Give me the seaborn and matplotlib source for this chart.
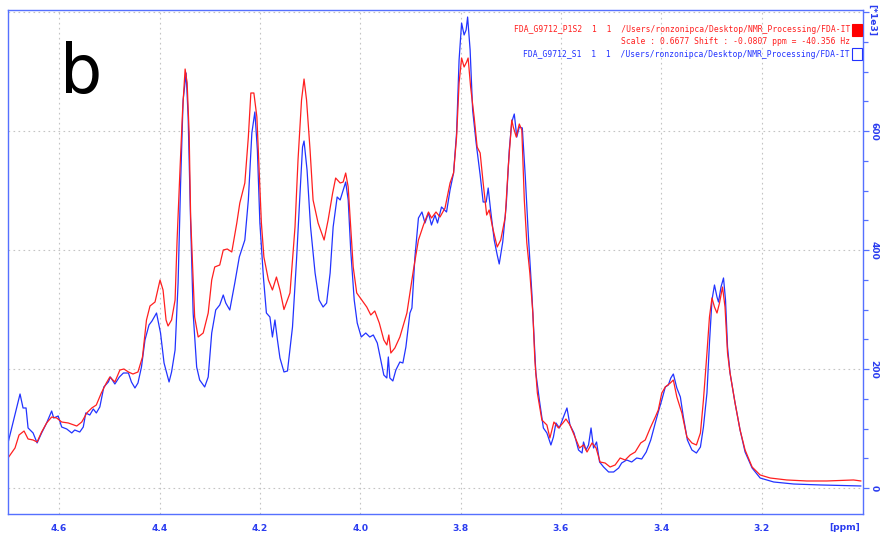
import numpy as np
import pandas as pd
import matplotlib
matplotlib.use("Agg")
import matplotlib.pyplot as plt
from matplotlib.ticker import MultipleLocator, FixedLocator
from matplotlib.patches import Rectangle
import seaborn as sns

# ---- data (ppm, intensity in units of 1e3) ----
blue_ppm = [4.702, 4.678, 4.672, 4.666, 4.662, 4.652, 4.644, 4.635, 4.625, 4.615, 4.611, 4.602, 4.595, 4.585,
            4.575, 4.569, 4.559, 4.552, 4.547, 4.539, 4.532, 4.526, 4.519, 4.511, 4.502, 4.498, 4.489, 4.480,
            4.472, 4.462, 4.456, 4.449, 4.443, 4.436, 4.429, 4.421, 4.415, 4.406, 4.398, 4.391, 4.381, 4.376,
            4.369, 4.363, 4.358, 4.353, 4.347, 4.343, 4.338, 4.333, 4.326, 4.320, 4.310, 4.303, 4.296, 4.288,
            4.280, 4.273, 4.268, 4.260, 4.250, 4.241, 4.230, 4.223, 4.216, 4.210, 4.205, 4.200, 4.193, 4.187,
            4.180, 4.175, 4.170, 4.165, 4.160, 4.152, 4.145, 4.135, 4.127, 4.120, 4.115, 4.112, 4.106, 4.099,
            4.090, 4.082, 4.074, 4.067, 4.060, 4.054, 4.046, 4.040, 4.035, 4.029, 4.024, 4.019, 4.012, 4.006,
            3.998, 3.989, 3.981, 3.974, 3.966, 3.959, 3.953, 3.947, 3.944, 3.941, 3.935, 3.929, 3.921, 3.915,
            3.909, 3.901, 3.897, 3.891, 3.884, 3.877, 3.871, 3.864, 3.858, 3.851, 3.846, 3.838, 3.828, 3.821,
            3.814, 3.808, 3.803, 3.798, 3.793, 3.789, 3.786, 3.781, 3.776, 3.769, 3.761, 3.755, 3.749, 3.745,
            3.740, 3.733, 3.727, 3.723, 3.716, 3.709, 3.703, 3.698, 3.693, 3.688, 3.683, 3.677, 3.671, 3.665,
            3.658, 3.654, 3.650, 3.643, 3.635, 3.628, 3.620, 3.615, 3.610, 3.603, 3.595, 3.588, 3.582, 3.574,
            3.565, 3.558, 3.555, 3.550, 3.545, 3.540, 3.535, 3.529, 3.523, 3.515, 3.505, 3.495, 3.485, 3.479,
            3.469, 3.459, 3.449, 3.439, 3.430, 3.421, 3.412, 3.406, 3.399, 3.392, 3.386, 3.381, 3.376, 3.369,
            3.362, 3.356, 3.348, 3.339, 3.330, 3.322, 3.316, 3.309, 3.304, 3.299, 3.294, 3.289, 3.286, 3.281,
            3.276, 3.272, 3.268, 3.263, 3.253, 3.243, 3.233, 3.219, 3.203, 3.176, 3.136, 3.083, 3.002]
blue_int = [75.7, 158.0, 134.5, 134.5, 100.9, 92.5, 75.7, 92.5, 109.3, 129.4, 117.7, 121.0, 102.5, 99.2,
            92.5, 97.5, 94.1, 102.5, 126.1, 122.7, 132.8, 126.1, 136.2, 169.8, 178.2, 186.6, 174.8, 186.6,
            193.3, 193.3, 178.2, 168.1, 176.5, 203.4, 248.8, 274.0, 280.7, 294.1, 260.5, 210.1, 178.2, 195.0,
            232.0, 344.6, 512.6, 652.1, 697.5, 623.6, 445.4, 294.1, 203.4, 181.5, 169.8, 186.6, 260.5, 299.2,
            307.6, 324.4, 310.9, 299.2, 344.6, 388.3, 416.8, 484.1, 596.7, 632.0, 568.1, 445.4, 354.6, 294.1,
            287.4, 253.8, 282.4, 248.8, 218.5, 195.0, 196.7, 270.6, 383.2, 495.8, 573.1, 583.2, 534.5, 438.7,
            361.4, 316.0, 304.2, 310.9, 361.4, 438.7, 489.1, 484.1, 497.5, 514.3, 484.1, 400.0, 316.0, 277.3,
            253.8, 260.5, 253.8, 257.2, 243.7, 215.1, 189.9, 184.9, 220.2, 184.9, 179.9, 198.3, 211.8, 210.1,
            237.0, 294.1, 302.5, 388.3, 453.8, 463.9, 445.4, 462.2, 442.0, 458.8, 445.4, 472.3, 463.9, 500.9,
            529.4, 596.7, 719.4, 781.5, 761.4, 769.8, 791.6, 736.2, 635.3, 579.9, 526.1, 480.7, 480.7, 504.2,
            465.6, 416.8, 391.6, 376.5, 413.5, 475.7, 568.1, 615.2, 628.6, 589.9, 606.8, 605.1, 522.7, 425.2,
            327.8, 260.5, 193.3, 147.9, 100.9, 92.5, 72.3, 85.7, 109.3, 100.9, 119.3, 134.5, 105.9, 92.5,
            63.9, 58.8, 77.3, 63.9, 72.3, 100.9, 67.3, 77.3, 43.7, 35.3, 26.9, 26.9, 33.6, 42.0,
            47.1, 43.7, 50.4, 48.8, 60.5, 80.7, 109.3, 127.8, 147.9, 169.8, 173.1, 184.9, 191.6, 168.1,
            153.0, 119.3, 80.7, 63.9, 58.8, 68.9, 102.5, 159.7, 243.7, 316.0, 341.2, 321.0, 312.6, 337.8,
            353.0, 316.0, 237.0, 193.3, 142.9, 97.5, 60.5, 33.6, 16.8, 10.1, 6.7, 5.1, 3.4]

red_ppm = [4.702, 4.688, 4.680, 4.670, 4.662, 4.652, 4.644, 4.635, 4.625, 4.615, 4.605, 4.595, 4.582, 4.565,
           4.555, 4.545, 4.535, 4.526, 4.516, 4.506, 4.499, 4.489, 4.479, 4.471, 4.462, 4.453, 4.443, 4.434,
           4.426, 4.419, 4.409, 4.399, 4.393, 4.387, 4.383, 4.376, 4.369, 4.365, 4.359, 4.354, 4.349, 4.345,
           4.341, 4.338, 4.334, 4.330, 4.323, 4.313, 4.303, 4.296, 4.290, 4.280, 4.273, 4.265, 4.256, 4.246,
           4.240, 4.230, 4.223, 4.218, 4.212, 4.206, 4.201, 4.197, 4.192, 4.183, 4.175, 4.167, 4.160, 4.152,
           4.140, 4.130, 4.124, 4.117, 4.112, 4.107, 4.100, 4.094, 4.084, 4.072, 4.064, 4.055, 4.049, 4.040,
           4.034, 4.029, 4.024, 4.019, 4.014, 4.007, 3.997, 3.987, 3.979, 3.971, 3.962, 3.953, 3.947, 3.943,
           3.939, 3.931, 3.921, 3.907, 3.894, 3.884, 3.874, 3.864, 3.858, 3.849, 3.841, 3.831, 3.821, 3.814,
           3.808, 3.803, 3.798, 3.793, 3.788, 3.785, 3.780, 3.773, 3.767, 3.761, 3.755, 3.748, 3.743, 3.736,
           3.727, 3.720, 3.711, 3.705, 3.698, 3.695, 3.689, 3.683, 3.678, 3.673, 3.668, 3.662, 3.656, 3.652,
           3.647, 3.638, 3.628, 3.622, 3.614, 3.605, 3.596, 3.590, 3.582, 3.572, 3.563, 3.555, 3.548, 3.538,
           3.530, 3.522, 3.512, 3.502, 3.492, 3.482, 3.472, 3.462, 3.452, 3.441, 3.432, 3.422, 3.412, 3.406,
           3.399, 3.392, 3.382, 3.376, 3.369, 3.359, 3.349, 3.339, 3.330, 3.322, 3.316, 3.309, 3.304, 3.299,
           3.294, 3.289, 3.284, 3.278, 3.273, 3.268, 3.263, 3.253, 3.243, 3.233, 3.219, 3.203, 3.183, 3.150,
           3.110, 3.070, 3.017, 3.002]
red_int = [50.4, 67.3, 89.1, 95.8, 82.4, 80.7, 77.3, 94.1, 109.3, 119.3, 117.7, 110.9, 109.3, 104.2,
           110.9, 126.1, 134.5, 139.5, 159.7, 176.5, 186.6, 178.2, 198.3, 200.0, 195.0, 191.6, 195.0, 220.2,
           282.4, 305.9, 312.6, 349.6, 332.8, 282.4, 272.3, 282.4, 316.0, 416.8, 539.5, 635.3, 704.2, 680.7,
           596.7, 455.5, 371.5, 287.4, 253.8, 260.5, 294.1, 349.6, 371.5, 374.8, 400.0, 401.7, 396.7, 445.4,
           479.0, 512.6, 589.9, 663.9, 663.9, 623.6, 522.7, 445.4, 388.3, 349.6, 332.8, 354.6, 332.8, 300.0,
           327.8, 438.7, 551.3, 652.1, 687.4, 652.1, 568.1, 484.1, 445.4, 416.8, 450.4, 495.8, 521.0, 512.6,
           514.3, 529.4, 505.9, 438.7, 371.5, 327.8, 316.0, 304.2, 290.8, 297.5, 277.3, 248.8, 240.4, 257.2,
           226.9, 235.3, 253.8, 294.1, 366.4, 416.8, 442.0, 463.9, 453.8, 463.9, 455.5, 470.6, 512.6, 529.4,
           589.9, 680.7, 722.7, 707.6, 716.0, 722.7, 674.0, 623.6, 573.1, 563.1, 512.6, 458.8, 467.3, 437.0,
           405.1, 416.8, 455.5, 539.5, 618.5, 606.8, 589.9, 611.8, 601.7, 484.1, 411.8, 361.4, 294.1, 215.1,
           159.7, 114.3, 105.9, 84.1, 110.9, 100.9, 109.3, 116.0, 105.9, 85.7, 67.3, 72.3, 60.5, 75.7,
           67.3, 43.7, 42.0, 35.3, 38.7, 50.4, 47.1, 55.5, 60.5, 75.7, 80.7, 100.9, 119.3, 131.1,
           159.7, 169.8, 176.5, 181.5, 153.0, 126.1, 85.7, 75.7, 72.3, 92.5, 147.9, 226.9, 287.4, 319.4,
           304.2, 294.1, 310.9, 337.8, 304.2, 226.9, 193.3, 142.9, 97.5, 63.9, 35.3, 21.9, 16.8, 13.5,
           11.8, 11.8, 13.5, 11.8]

x_major_ticks = [4.6, 4.4, 4.2, 4.0, 3.8, 3.6, 3.4, 3.2]
x_tick_labels = ["4.6", "4.4", "4.2", "4.0", "3.8", "3.6", "3.4", "3.2"]
y_major_ticks = [0, 200, 400, 600, 800]
y_tick_labels = ["0", "200", "400", "600", ""]

red_name = "FDA_G9712_P1S2  1  1  /Users/ronzonipca/Desktop/NMR_Processing/FDA-IT"
red_note = "Scale : 0.6677 Shift : -0.0807 ppm = -40.356 Hz"
blue_name = "FDA_G9712_S1  1  1  /Users/ronzonipca/Desktop/NMR_Processing/FDA-IT"

# ---- style ----
RED = "#ff1f1f"
BLUE = "#2233ff"
SPINE = "#5570ff"
LABEL = "#2a3cf0"

sns.set_style("white")
plt.rcParams["font.family"] = ["DejaVu Sans"]

W, H = 880, 535
fig = plt.figure(figsize=(W / 100, H / 100), dpi=100)
ax = fig.add_axes([8 / W, 1 - 514 / H, (863 - 8) / W, (514 - 10) / H])

df_blue = pd.DataFrame({"ppm": blue_ppm, "intensity": blue_int})
df_red = pd.DataFrame({"ppm": red_ppm, "intensity": red_int})
sns.lineplot(data=df_blue, x="ppm", y="intensity", ax=ax, color=BLUE, lw=0.9,
             estimator=None, sort=True)
sns.lineplot(data=df_red, x="ppm", y="intensity", ax=ax, color=RED, lw=0.9,
             estimator=None, sort=True)

ax.set_xlim(4.702, 2.998)
ax.set_ylim(-43.7, 803.4)
ax.set_xlabel("")
ax.set_ylabel("")

ax.xaxis.set_major_locator(FixedLocator(x_major_ticks))
ax.set_xticklabels(x_tick_labels)
ax.xaxis.set_minor_locator(MultipleLocator(0.05))
ax.yaxis.tick_right()
ax.yaxis.set_major_locator(FixedLocator(y_major_ticks))
ax.set_yticklabels(y_tick_labels)
ax.yaxis.set_minor_locator(MultipleLocator(50))

ax.tick_params(axis="both", which="both", direction="out", color=SPINE,
               labelcolor=LABEL, width=0.9)
ax.tick_params(axis="both", which="major", length=4, labelsize=6.6)
ax.tick_params(axis="both", which="minor", length=3.5)
ax.tick_params(axis="x", pad=3)
ax.tick_params(axis="y", labelrotation=270, pad=0.5, left=False, right=True)
for lbl in ax.get_xticklabels() + ax.get_yticklabels():
    lbl.set_fontweight("bold")
for lbl in ax.get_yticklabels():
    lbl.set_va("center")
    lbl.set_ha("left")

for s in ax.spines.values():
    s.set_color(SPINE)
    s.set_linewidth(1.0)
    s.set_visible(True)

ax.grid(True, which="major", linestyle=(0, (1.5, 3)), color="#c4c4c4", lw=0.8)
ax.set_axisbelow(True)

# ---- annotations ----
fig.text(60 / W, 1 - 93 / H, "b", fontsize=48, color="black", ha="left", va="baseline")
fig.text(845 / W, 1 - 527 / H, "[ppm]", fontsize=6.6, fontweight="bold", color=LABEL,
         ha="center", va="center")
fig.text(871.5 / W, 1 - 4 / H, "[*1e3]", fontsize=6.6, fontweight="bold", color=LABEL,
         ha="center", va="top", rotation=270)

mono = dict(family="DejaVu Sans Mono", fontsize=5.8, ha="right", va="center")
fig.text(850 / W, 1 - 30 / H, red_name, color=RED, **mono)
fig.text(850 / W, 1 - 41 / H, red_note, color=RED, **mono)
fig.text(850 / W, 1 - 54.5 / H, blue_name, color=BLUE, **mono)

fig.patches.append(Rectangle((852 / W, 1 - 35.5 / H), 10 / W, 11.5 / H,
                             transform=fig.transFigure, facecolor="#ff0000",
                             edgecolor="#ff0000", lw=0.8))
fig.patches.append(Rectangle((852 / W, 1 - 60 / H), 10 / W, 11.5 / H,
                             transform=fig.transFigure, facecolor="white",
                             edgecolor=BLUE, lw=0.8))

fig.savefig("out.png", dpi=100)
